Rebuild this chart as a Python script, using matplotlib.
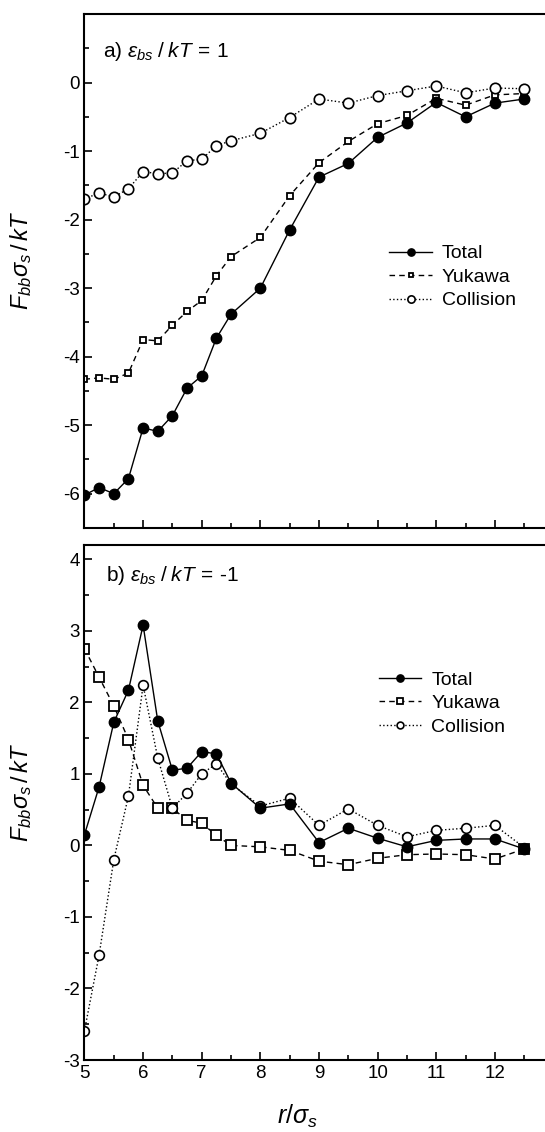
import numpy as np
import matplotlib
matplotlib.use("Agg")
import matplotlib.pyplot as plt
from matplotlib.ticker import MultipleLocator

plt.rcParams['font.family'] = ['Liberation Sans', 'DejaVu Sans']
plt.rcParams['mathtext.fontset'] = 'custom'
plt.rcParams['mathtext.rm'] = 'Liberation Sans'
plt.rcParams['mathtext.it'] = 'Liberation Sans:italic'
plt.rcParams['mathtext.bf'] = 'Liberation Sans:bold'
plt.rcParams['axes.unicode_minus'] = False

r = [5, 5.25, 5.5, 5.75, 6, 6.25, 6.5, 6.75, 7, 7.25, 7.5,
     8, 8.5, 9, 9.5, 10, 10.5, 11, 11.5, 12, 12.5]
xticks = [5, 6, 7, 8, 9, 10, 11, 12]

# panel a) eps_bs/kT = 1
total_a = [-6.02, -5.91, -6.00, -5.78, -5.04, -5.09, -4.86, -4.46, -4.28, -3.73, -3.38,
           -3.00, -2.15, -1.38, -1.18, -0.80, -0.59, -0.29, -0.50, -0.30, -0.24]
yukawa_a = [-4.33, -4.31, -4.33, -4.24, -3.75, -3.77, -3.54, -3.34, -3.18, -2.82, -2.54,
            -2.26, -1.65, -1.17, -0.86, -0.60, -0.48, -0.23, -0.33, -0.18, -0.16]
collision_a = [-1.70, -1.61, -1.67, -1.55, -1.30, -1.33, -1.32, -1.14, -1.12, -0.92, -0.85,
               -0.74, -0.51, -0.24, -0.30, -0.19, -0.12, -0.05, -0.15, -0.08, -0.09]

# panel b) eps_bs/kT = -1
total_b = [0.15, 0.82, 1.72, 2.17, 3.08, 1.74, 1.05, 1.08, 1.31, 1.28, 0.87,
           0.52, 0.58, 0.04, 0.24, 0.10, -0.02, 0.07, 0.09, 0.09, -0.05]
yukawa_b = [2.75, 2.35, 1.95, 1.48, 0.84, 0.52, 0.52, 0.35, 0.31, 0.14, 0.00,
            -0.02, -0.07, -0.22, -0.27, -0.18, -0.13, -0.12, -0.13, -0.19, -0.05]
collision_b = [-2.59, -1.53, -0.20, 0.69, 2.24, 1.22, 0.52, 0.73, 1.00, 1.14, 0.86,
               0.55, 0.66, 0.28, 0.51, 0.28, 0.12, 0.21, 0.24, 0.28, -0.03]

fig = plt.figure(figsize=(5.45, 11.32), dpi=100)
ax1 = fig.add_axes([0.155, 0.5336, 0.8606, 0.454])
ax2 = fig.add_axes([0.155, 0.0636, 0.8606, 0.455])


def draw(ax, tot, yuk, col, sq, cs):
    ax.plot(r, tot, '-', color='black', lw=1.0, marker='o', ms=7.5,
            mfc='black', mec='black', label='Total', zorder=3)
    ax.plot(r, yuk, '--', color='black', lw=1.0, marker='s', ms=sq,
            mfc='white', mec='black', mew=1.3, dashes=(4, 3), label='Yukawa', zorder=2)
    ax.plot(r, col, ':', color='black', lw=1.0, marker='o', ms=cs,
            mfc='white', mec='black', mew=1.2, label='Collision', zorder=2)
    ax.set_xlim(5, 13)
    ax.set_xticks(xticks)
    ax.xaxis.set_minor_locator(MultipleLocator(0.5))
    ax.yaxis.set_minor_locator(MultipleLocator(0.5))
    ax.tick_params(which='both', direction='in', top=False, right=False, labelsize=13.5)
    ax.tick_params(which='major', length=6, width=1.2)
    ax.tick_params(which='minor', length=3.5, width=1.2)
    for s in ax.spines.values():
        s.set_linewidth(1.5)
    ax.set_ylabel(r'$F_{bb}\sigma_s\,/\,kT$', fontsize=17)
    ax.yaxis.set_label_coords(-0.108, 0.52)


draw(ax1, total_a, yukawa_a, collision_a, 5, 7.5)
ax1.set_ylim(-6.5, 1)
ax1.set_yticks([0, -1, -2, -3, -4, -5, -6])
ax1.tick_params(axis='x', labelbottom=False)
ax1.text(0.04, 0.927, r'a) $\varepsilon_{bs}\;/\;kT\, =\, 1$', transform=ax1.transAxes,
         fontsize=15, va='center')
ax1.legend(loc='upper left', bbox_to_anchor=(0.613, 0.585), frameon=False, fontsize=14,
           handlelength=2.2, handletextpad=0.5, labelspacing=0.3, markerscale=0.7)

draw(ax2, total_b, yukawa_b, collision_b, 7, 7)
ax2.set_ylim(-3, 4.2)
ax2.set_yticks([4, 3, 2, 1, 0, -1, -2, -3])
ax2.text(0.045, 0.94, r'b) $\varepsilon_{bs}\;/\;kT\, =\,$-1', transform=ax2.transAxes,
         fontsize=15, va='center')
ax2.legend(loc='upper left', bbox_to_anchor=(0.59, 0.789), frameon=False, fontsize=14,
           handlelength=2.2, handletextpad=0.5, labelspacing=0.3, markerscale=0.7)
ax2.set_xlabel(r'$r/\sigma_s$', fontsize=18)
ax2.xaxis.set_label_coords(0.453, -0.083)

fig.savefig('out.png', dpi=100)
